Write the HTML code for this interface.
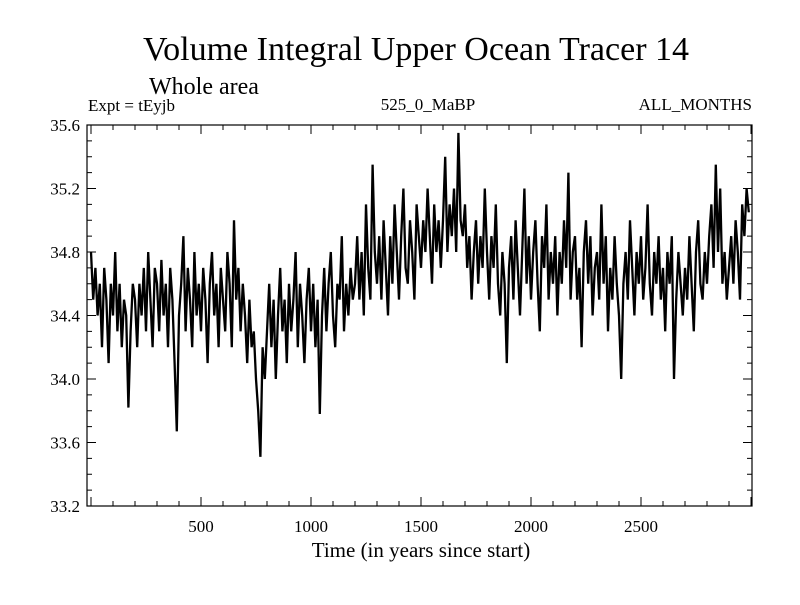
<!DOCTYPE html>
<html><head><meta charset="utf-8"><style>
body{margin:0;background:#fff}
svg text{font-family:"Liberation Serif",serif;fill:#000}
</style></head><body>
<svg id="chart" width="800" height="600" xmlns="http://www.w3.org/2000/svg">
<text x="416" y="60" font-size="34" text-anchor="middle">Volume Integral Upper Ocean Tracer 14</text>
<text x="149" y="94" font-size="24">Whole area</text>
<text x="88" y="111" font-size="17">Expt = tEyjb</text>
<text x="428" y="110" font-size="17" text-anchor="middle">525_0_MaBP</text>
<text x="752" y="110" font-size="17" text-anchor="end">ALL_MONTHS</text>
<text x="421" y="557" font-size="21" text-anchor="middle">Time (in years since start)</text>
<g id="axes"></g>
<polyline id="series" fill="none" stroke="#000" stroke-width="2.3" stroke-linejoin="miter"></polyline>
<rect x="87" y="125" width="665" height="381" fill="none" stroke="#000" stroke-width="1.2"/>
</svg>
<script>
const xTicks=[500,1000,1500,2000,2500];
const yTicks=[33.2,33.6,34.0,34.4,34.8,35.2,35.6];
const startYear=0, stepYears=10;
const values=[
34.8,34.5,34.7,34.4,34.6,34.2,34.7,34.5,34.1,34.6,
34.4,34.8,34.3,34.6,34.2,34.5,34.4,33.82,34.3,34.6,
34.5,34.2,34.6,34.4,34.7,34.3,34.8,34.5,34.2,34.7,
34.6,34.3,34.75,34.4,34.6,34.2,34.7,34.5,34.1,33.67,
34.4,34.6,34.9,34.3,34.7,34.5,34.2,34.8,34.4,34.6,
34.3,34.7,34.5,34.1,34.6,34.8,34.4,34.6,34.2,34.7,
34.5,34.3,34.8,34.6,34.2,35.0,34.5,34.7,34.3,34.6,
34.4,34.1,34.5,34.2,34.3,34.0,33.8,33.51,34.2,34.0,
34.3,34.6,34.2,34.5,34.0,34.4,34.7,34.3,34.5,34.1,
34.6,34.3,34.5,34.8,34.2,34.6,34.4,34.1,34.5,34.7,
34.3,34.6,34.2,34.5,33.78,34.4,34.7,34.3,34.6,34.8,
34.4,34.2,34.6,34.5,34.9,34.3,34.6,34.4,34.7,34.5,
34.6,34.9,34.5,34.8,34.4,35.1,34.7,34.5,35.35,34.8,
34.6,34.9,34.5,35.0,34.7,34.4,34.9,34.6,35.1,34.8,
34.5,34.9,35.2,34.7,34.6,35.0,34.8,34.5,35.1,34.9,
34.7,35.0,34.8,35.2,34.9,34.6,35.1,34.8,35.0,34.7,
35.0,35.4,34.8,35.1,34.9,35.2,34.8,35.55,35.0,34.9,
35.1,34.7,34.9,34.5,34.8,35.0,34.6,34.9,34.7,35.2,
34.8,34.5,34.9,34.7,35.1,34.6,34.4,34.8,34.6,34.1,
34.7,34.9,34.5,35.0,34.7,34.4,34.8,35.2,34.6,34.9,
34.5,34.8,35.0,34.6,34.3,34.9,34.7,35.1,34.5,34.8,
34.6,34.9,34.4,34.8,34.6,35.0,34.7,35.3,34.5,34.8,
34.9,34.5,34.7,34.2,34.8,35.0,34.6,34.9,34.4,34.7,
34.8,34.5,35.1,34.6,34.9,34.3,34.7,34.5,34.9,34.6,
34.4,34.0,34.6,34.8,34.5,35.0,34.7,34.4,34.8,34.6,
34.9,34.5,34.7,35.1,34.6,34.4,34.8,34.6,34.9,34.5,
34.7,34.3,34.8,34.6,34.9,34.0,34.5,34.8,34.6,34.4,
34.7,34.5,34.9,34.6,34.3,34.8,35.0,34.6,34.5,34.8,
34.6,34.9,35.1,34.7,35.35,34.8,35.2,34.6,34.8,34.5,
34.7,34.9,34.6,35.0,34.8,34.5,35.1,34.9,35.2,35.05
];
const X=v=>91+v*0.22;
const Y=v=>125+(35.6-v)*158.75;
const NS="http://www.w3.org/2000/svg";
const axes=document.getElementById('axes');
function line(x1,y1,x2,y2,name){
  const l=document.createElementNS(NS,'line');
  l.setAttribute('x1',x1);l.setAttribute('y1',y1);l.setAttribute('x2',x2);l.setAttribute('y2',y2);
  l.setAttribute('stroke','#000');l.setAttribute('stroke-width','1');
  
  
  axes.appendChild(l);
}
function text(x,y,s,anchor,name){
  const t=document.createElementNS(NS,'text');
  t.setAttribute('x',x);t.setAttribute('y',y);t.setAttribute('font-size','17');t.setAttribute('text-anchor',anchor);
  t.textContent=s;
  
  
  axes.appendChild(t);
}
for(let v=0;v<=3000;v+=100){
  const x=X(v); if(x<87||x>752) continue;
  const big=v%500===0, len=big?9:5;
  line(x,506,x,506-len,'x-tick');
  line(x,125,x,125+len,'x-tick-top');
}
xTicks.forEach(v=>text(X(v),532,String(v),'middle','x-tick-label'));
for(let i=0;i<=24;i++){
  const v=33.2+i*0.1, y=Y(v), big=i%4===0, len=big?9:5;
  line(87,y,87+len,y,'y-tick');
  line(752,y,752-len,y,'y-tick-right');
}
yTicks.forEach(v=>text(80,Y(v)+6,v.toFixed(1),'end','y-tick-label'));
document.getElementById('series').setAttribute('points',
  values.map((v,i)=>X(startYear+i*stepYears).toFixed(2)+','+Y(v).toFixed(2)).join(' '));
</script>
</body></html>
